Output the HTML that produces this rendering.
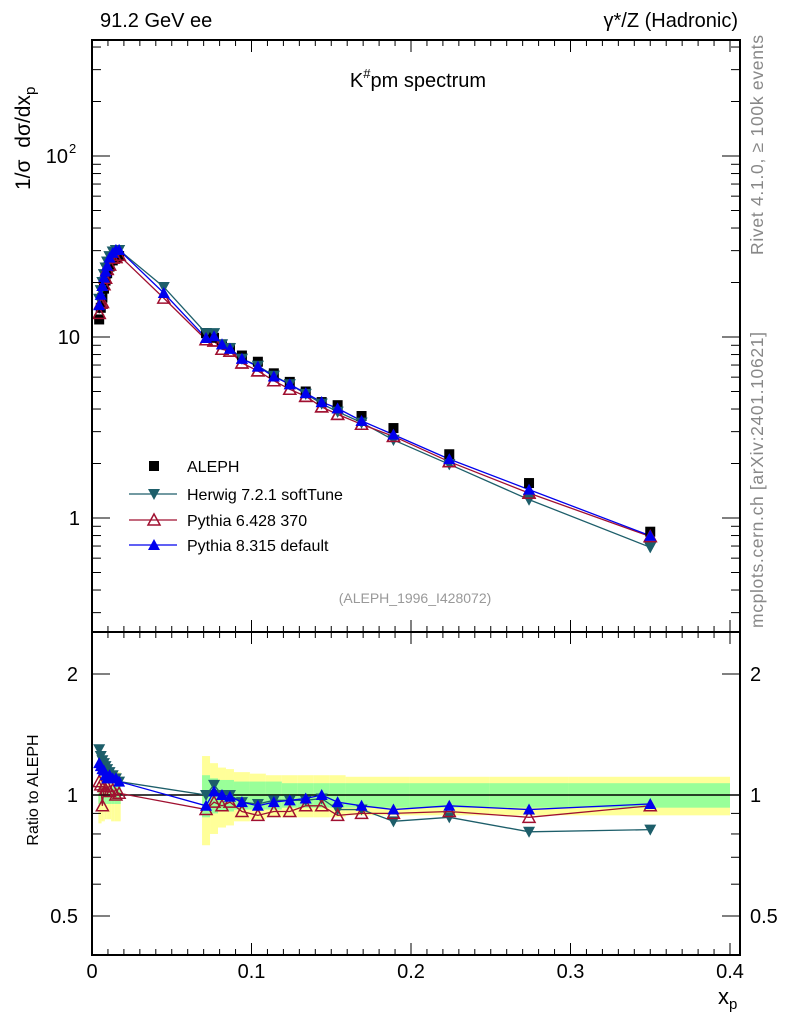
<!DOCTYPE html>
<html><head><meta charset="utf-8"><style>
html,body{margin:0;padding:0;background:#fff;}
svg{display:block;font-family:"Liberation Sans",sans-serif;}
</style></head><body>
<svg id="c" width="786" height="1024" viewBox="0 0 786 1024"></svg>
<script>
const xs=[0.0045,0.0055,0.0065,0.0075,0.0085,0.0095,0.011,0.013,0.015,0.017,0.0715,0.0765,0.0815,0.0865,0.094,0.104,0.114,0.124,0.134,0.144,0.154,0.169,0.189,0.224,0.274,0.35];
const aleph=[12.5,14.5,16.5,18.5,20.5,22.5,24.5,26.5,27.5,28,10.5,9.9,9.1,8.7,7.9,7.3,6.3,5.65,5.0,4.37,4.2,3.66,3.14,2.25,1.56,0.84];
const errTot=[0.15,0.15,0.14,0.14,0.13,0.13,0.13,0.14,0.14,0.14,0.25,0.2,0.17,0.16,0.14,0.13,0.12,0.12,0.12,0.12,0.12,0.11,0.11,0.11,0.11,0.11];
const errStat=[0.05,0.05,0.05,0.05,0.05,0.05,0.05,0.05,0.05,0.05,0.12,0.1,0.09,0.09,0.08,0.08,0.08,0.07,0.07,0.07,0.07,0.07,0.07,0.07,0.07,0.07];
const binLo=[0.004,0.005,0.006,0.007,0.008,0.009,0.010,0.012,0.014,0.016,0.069,0.074,0.079,0.084,0.089,0.099,0.109,0.119,0.129,0.139,0.149,0.159,0.179,0.199,0.249,0.299];
const binHi=[0.005,0.006,0.007,0.008,0.009,0.010,0.012,0.014,0.016,0.018,0.074,0.079,0.084,0.089,0.099,0.109,0.119,0.129,0.139,0.149,0.159,0.179,0.199,0.249,0.299,0.4];
const rHerwig=[1.3,1.25,1.22,1.2,1.18,1.16,1.14,1.12,1.1,1.08,1.0,1.06,1.0,1.0,0.96,0.95,0.97,0.97,0.97,0.98,0.92,0.92,0.86,0.88,0.81,0.82];
const rPy6=[1.08,1.06,0.94,1.05,1.03,1.05,1.02,1.03,1.0,1.01,0.92,0.96,0.94,0.96,0.91,0.89,0.91,0.91,0.94,0.94,0.89,0.9,0.9,0.91,0.88,0.94];
const rPy8=[1.2,1.18,1.16,1.15,1.12,1.1,1.12,1.1,1.1,1.08,0.94,1.02,1.0,0.99,0.96,0.94,0.96,0.97,0.98,1.0,0.96,0.94,0.92,0.94,0.92,0.95];
const extraX=0.045, extraHerwig=18.9, extraPy6=16.4, extraPy8=17.5;
const xTicks=[0,0.1,0.2,0.3,0.4], xTickLabels=["0","0.1","0.2","0.3","0.4"];

const NS="http://www.w3.org/2000/svg", svg=document.getElementById('c');
const L=92,R=740,T=40,MB=632,RB=955;
const X=x=>L+x*1595;
const Y=v=>518-Math.log10(v)*181;
const YR=r=>795-Math.log10(r)*402;
function el(t,a,p){const e=document.createElementNS(NS,t);for(const k in a)e.setAttribute(k,a[k]);(p||svg).appendChild(e);return e;}
function txt(s,a,p){const e=el('text',a,p);e.textContent=s;return e;}

const bands=el('g',{});


for(let i=0;i<xs.length;i++){
  const b=el('rect',{x:X(binLo[i]),width:X(binHi[i])-X(binLo[i]),y:YR(1+errTot[i]),height:YR(1-errTot[i])-YR(1+errTot[i]),fill:'#ffff99'},bands);
  
  
}
for(let i=0;i<xs.length;i++){
  const b=el('rect',{x:X(binLo[i]),width:X(binHi[i])-X(binLo[i]),y:YR(1+errStat[i]),height:YR(1-errStat[i])-YR(1+errStat[i]),fill:'#99ff99'},bands);
  
  
}
el('line',{x1:L,x2:R,y1:YR(1),y2:YR(1),stroke:'#000','stroke-width':1.5});

function mark(g,type,cx,cy,col){
  if(type==='sq') return el('rect',{x:cx-5,y:cy-5,width:10,height:10,fill:'#000'},g);
  if(type==='down') return el('polygon',{points:`${cx-6},${cy-5} ${cx+6},${cy-5} ${cx},${cy+6}`,fill:col},g);
  if(type==='up') return el('polygon',{points:`${cx-6},${cy+5} ${cx+6},${cy+5} ${cx},${cy-6}`,fill:col},g);
  if(type==='open') return el('polygon',{points:`${cx-6},${cy+5} ${cx+6},${cy+5} ${cx},${cy-6}`,fill:'none',stroke:col,'stroke-width':1.5},g);
}
const series=[
 {name:'herwig',r:rHerwig,ex:extraHerwig,col:'#1d5e6a',type:'down'},
 {name:'pythia6',r:rPy6,ex:extraPy6,col:'#a01030',type:'open'},
 {name:'pythia8',r:rPy8,ex:extraPy8,col:'#0000ee',type:'up'}];
series.forEach(s=>{
  const g=el('g',{});
  
  
  const pts=xs.map((x,i)=>[x,aleph[i]*s.r[i]]);
  const idx=pts.findIndex(p=>p[0]>extraX); pts.splice(idx,0,[extraX,s.ex]);
  el('polyline',{points:pts.map(p=>X(p[0])+','+Y(p[1])).join(' '),fill:'none',stroke:s.col,'stroke-width':1.3},g);
  pts.forEach(p=>{const m=mark(g,s.type,X(p[0]),Y(p[1]),s.col);
    
    });
  const g2=el('g',{});
  
  
  el('polyline',{points:xs.map((x,i)=>X(x)+','+YR(s.r[i])).join(' '),fill:'none',stroke:s.col,'stroke-width':1.3},g2);
  xs.forEach((x,i)=>{const m=mark(g2,s.type,X(x),YR(s.r[i]),s.col);
    
    });
});
const ga=el('g',{});


xs.forEach((x,i)=>{const m=mark(ga,'sq',X(x),Y(aleph[i]));
  
  });
series.forEach(s=>{
  const g=el('g',{});
  
  
  xs.forEach((x,i)=>{const m=mark(g,s.type,X(x),Y(aleph[i]*s.r[i]),s.col);
    
    });
});

el('rect',{x:L,y:T,width:R-L,height:MB-T,fill:'none',stroke:'#000','stroke-width':2});
el('rect',{x:L,y:MB,width:R-L,height:RB-MB,fill:'none',stroke:'#000','stroke-width':2});
for(let k=0;k<=40;k++){const x=X(k/100),maj=k%10===0,len=maj?12:6;
  [[MB,-1],[T,1],[RB,-1],[MB,1]].forEach(([y,d])=>el('line',{x1:x,x2:x,y1:y,y2:y+d*len,stroke:'#000','stroke-width':1}));}
xTicks.forEach((t,i)=>{const e=txt(xTickLabels[i],{x:X(t),y:978,'font-size':20,'text-anchor':'middle'});
  
  });
for(let d=-1;d<=2;d++)for(let m=1;m<=9;m++){const v=m*Math.pow(10,d),y=Y(v);if(y<T||y>MB)continue;
  const len=m===1?18:9;
  el('line',{x1:L,x2:L+len,y1:y,y2:y,stroke:'#000'});el('line',{x1:R,x2:R-len,y1:y,y2:y,stroke:'#000'});}
[[1,'1'],[10,'10']].forEach(([v,s])=>txt(s,{x:80,y:Y(v)+7,'font-size':20,'text-anchor':'end'}));
txt('10',{x:68,y:Y(100)+7,'font-size':20,'text-anchor':'end'});
txt('2',{x:69,y:Y(100)-3,'font-size':13});
[0.5,0.6,0.7,0.8,0.9,1,2].forEach(r=>{const y=YR(r),len=(r===0.5||r===1||r===2)?18:9;
  el('line',{x1:L,x2:L+len,y1:y,y2:y,stroke:'#000'});el('line',{x1:R,x2:R-len,y1:y,y2:y,stroke:'#000'});});
[[2,'2'],[1,'1'],[0.5,'0.5']].forEach(([r,s])=>{txt(s,{x:78,y:YR(r)+7,'font-size':20,'text-anchor':'end'});
  txt(s,{x:750,y:YR(r)+7,'font-size':20});});
const el1=txt('91.2 GeV ee',{x:100,y:27,'font-size':20});


txt('γ*/Z (Hadronic)',{x:738,y:27,'font-size':20,'text-anchor':'end'});
const tt=txt('',{x:418,y:87,'font-size':20,'text-anchor':'middle'});tt.innerHTML='K<tspan font-size="13" dy="-9">#</tspan><tspan dy="9">pm spectrum</tspan>';


const yl=txt('',{transform:'translate(30,190) rotate(-90)','font-size':21});yl.innerHTML='1/σ  <tspan dx="6">dσ/dx</tspan><tspan font-size="15" dy="5">p</tspan>';


const rl=txt('Ratio to ALEPH',{transform:'translate(38,790) rotate(-90)','font-size':16,'text-anchor':'middle'});


const xl=txt('',{x:718,y:1004,'font-size':22});xl.innerHTML='x<tspan font-size="15" dy="5">p</tspan>';


txt('Rivet 4.1.0, ≥ 100k events',{transform:'translate(763,255) rotate(-90)','font-size':17.5,fill:'#888',textLength:220});
txt('mcplots.cern.ch [arXiv:2401.10621]',{transform:'translate(763,628) rotate(-90)','font-size':17.5,fill:'#888',textLength:296});
txt('(ALEPH_1996_I428072)',{x:415,y:603,'font-size':14,fill:'#999','text-anchor':'middle'});
const lg=el('g',{});


const ly=[466,494,520,545],names=['ALEPH','Herwig 7.2.1 softTune','Pythia 6.428 370','Pythia 8.315 default'];
mark(lg,'sq',154,ly[0]);
series.forEach((s,i)=>{el('line',{x1:129,x2:177,y1:ly[i+1],y2:ly[i+1],stroke:s.col,'stroke-width':1.3},lg);mark(lg,s.type,154,ly[i+1],s.col);});
names.forEach((n,i)=>{const e=txt(n,{x:187,y:ly[i]+6,'font-size':16},lg);
  
  });
</script>
</body></html>
